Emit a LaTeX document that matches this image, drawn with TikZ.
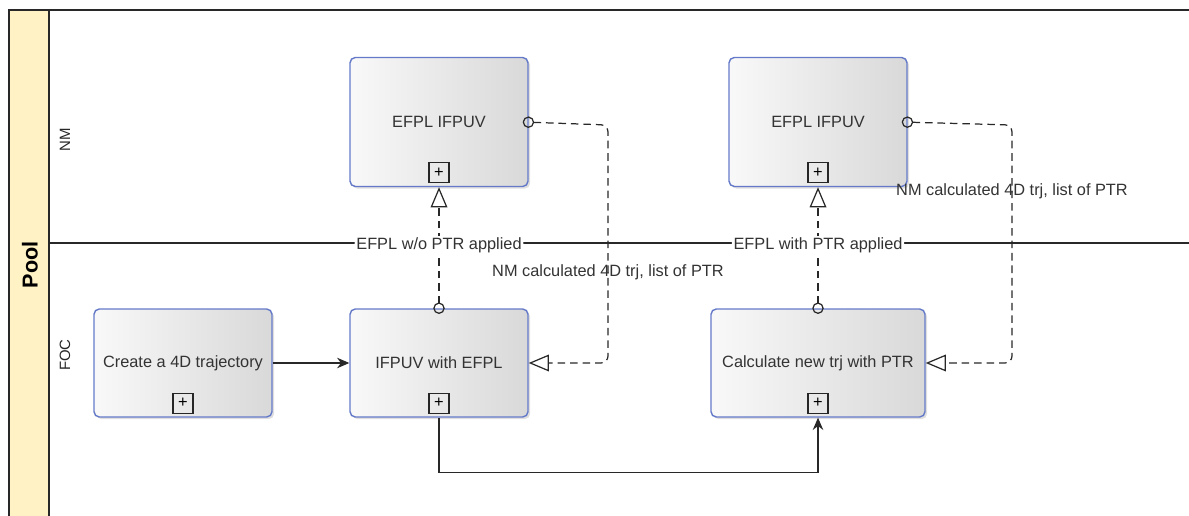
\documentclass[tikz,border=0pt]{standalone}
\usepackage{fontspec}
\setmainfont{Liberation Sans}
\usetikzlibrary{arrows.meta,shadows,positioning}
\definecolor{poolyellow}{RGB}{255,242,196}
\definecolor{taskblue}{RGB}{100,122,200}
\definecolor{linegray}{RGB}{40,40,40}

\begin{document}
\begin{tikzpicture}[x=0.02cm,y=-0.02cm,font=\fontsize{9.3}{11}\selectfont]
	\tikzstyle{task}=[draw=taskblue,line width=0.8pt,rounded corners=3pt,left color=gray!5,right color=gray!30,
		drop shadow={opacity=0.25,shadow xshift=1.2pt,shadow yshift=-1.2pt},
		minimum width=3.56cm,minimum height=2.16cm,text=black!80,inner sep=0pt]
	\tikzstyle{plus}=[draw=black!85,fill=none,minimum size=0.4cm,inner sep=0pt,line width=0.6pt]
	\tikzstyle{msgflow}=[draw=linegray,line width=0.7pt,dash pattern=on 4.3pt off 2.8pt,rounded corners=4pt,
		{Circle[open,length=6.5pt,width=6.5pt]}-{Triangle[open,length=11.5pt,width=9.5pt]}]
	\tikzstyle{seqflow}=[draw=linegray,line width=0.7pt,-{Stealth[length=7pt,width=6pt]}]
	\tikzstyle{flowlabel}=[fill=white,inner sep=1pt,text=black!80]
	\useasboundingbox (0,0) rectangle (1189,516);
	% pool and lanes
	\draw[linegray,line width=0.6pt,fill=poolyellow] (9,520) -- (9,10) -- (49,10) -- (49,520);
	\draw[linegray,line width=0.6pt] (49,10) -- (1195,10);
	\draw[linegray,line width=0.6pt] (49,243) -- (1195,243);
	\node[rotate=90,font=\fontsize{12.3}{14}\bfseries\selectfont] (pool) at (30,265) {Pool};
	\node[rotate=90,font=\fontsize{8.5}{10}\selectfont,text=black!85] (nm) at (65,140) {NM};
	\node[rotate=90,font=\fontsize{8.5}{10}\selectfont,text=black!85] (foc) at (65,355) {FOC};
	% tasks
	\node[task] (create) at (183,363) {Create a 4D trajectory};
	\node[task] (ifpuv) at (439,363) {IFPUV with EFPL};
	\node[task,minimum width=4.28cm] (calc) at (818,363) {Calculate new trj with PTR};
	\node[task,minimum height=2.58cm] (efplA) at (439,122) {EFPL IFPUV};
	\node[task,minimum height=2.58cm] (efplB) at (818,122) {EFPL IFPUV};
	\foreach \t in {create,ifpuv,calc,efplA,efplB}
		\node[plus] (\t-plus) at ([yshift=0.29cm]\t.south) {+};
	% sequence flows
	\draw[seqflow] (create) -- (ifpuv);
	\draw[seqflow] (ifpuv.south) -- ++(0,55) -| (calc.south);
	% message flows
	\draw[msgflow] ([yshift=-3.2pt]ifpuv.north) -- node[flowlabel,pos=0.54] {EFPL w/o PTR applied} (efplA.south);
	\draw[msgflow] ([xshift=-3.4pt]efplA.east) -- (608,125) -- node[pos=0.62,text=black!80] {NM calculated 4D trj, list of PTR} (608,363) -- (ifpuv.east);
	\draw[msgflow] ([yshift=-3.2pt]calc.north) -- node[flowlabel,pos=0.54] {EFPL with PTR applied} (efplB.south);
	\draw[msgflow] ([xshift=-3.4pt]efplB.east) -- (1012,125) -- node[pos=0.28,text=black!80] {NM calculated 4D trj, list of PTR} (1012,363) -- (calc.east);
\end{tikzpicture}
\end{document}
